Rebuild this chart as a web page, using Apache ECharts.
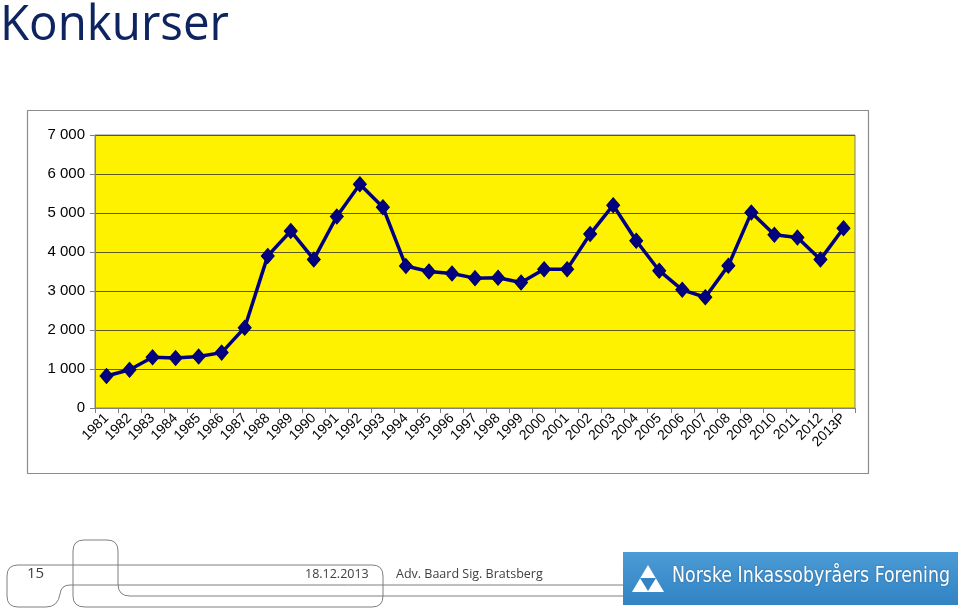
<!DOCTYPE html>
<html><head><meta charset="utf-8">
<script src="https://cdn.jsdelivr.net/npm/echarts@6/dist/echarts.min.js"></script>
<style>html,body{margin:0;padding:0;background:#fff;}#c{width:960px;height:608px;}</style>
</head><body><div id="c"></div>
<script>
const years = ['1981','1982','1983','1984','1985','1986','1987','1988','1989','1990','1991','1992','1993','1994','1995','1996','1997','1998','1999','2000','2001','2002','2003','2004','2005','2006','2007','2008','2009','2010','2011','2012','2013P'];
const konkurser = [820,980,1300,1280,1320,1420,2060,3900,4540,3810,4910,5740,5150,3640,3500,3450,3330,3340,3220,3560,3560,4460,5200,4290,3520,3030,2840,3650,5010,4440,4370,3810,4610];
const yTicks = {min:0, max:7000, interval:1000};
const titleText = 'Konkurser';
const pageNo = '15';
const dateText = '18.12.2013';
const authorText = 'Adv. Baard Sig. Bratsberg';
const logoText = 'Norske Inkassobyråers Forening';

const footerPathData = 'M 73,585 L 70,585 Q 61,585 60,594 Q 58,607 46,607 L 18,607 Q 7,607 7,596 L 7,576 Q 7,565 18,565 L 372,565 Q 383,565 383,576 L 383,596 Q 383,607 372,607 L 85,607 Q 73,607 73,596 L 73,551 Q 73,540 84,540 L 107,540 Q 118,540 118,551 L 118,584 Q 118,596 130,596 L 624,596';
echarts.graphic.registerShape('footerPath', echarts.graphic.extendPath(footerPathData, {}));

const chart = echarts.init(document.getElementById('c'), null, {renderer:'canvas'});
const fmt = v => String(v).replace(/\B(?=(\d{3})+(?!\d))/g, ' ');
chart.setOption({
  animation:false,
  backgroundColor:'#fff',
  grid:{left:95, top:135, width:760, height:273, show:true, backgroundColor:'#FFF200', borderColor:'#808080', borderWidth:1},
  xAxis:{type:'category', data:years, boundaryGap:true,
    axisLine:{lineStyle:{color:'#808080', width:1}},
    axisTick:{show:true, interval:0, length:5, lineStyle:{color:'#808080'}},
    axisLabel:{interval:0, rotate:45, margin:8, color:'#000', fontFamily:'Liberation Sans', fontSize:14}},
  yAxis:{type:'value', min:yTicks.min, max:yTicks.max, interval:yTicks.interval,
    axisLine:{show:true, lineStyle:{color:'#808080'}},
    axisTick:{show:true, length:5, lineStyle:{color:'#808080'}},
    splitLine:{lineStyle:{color:'#5e5a1c', width:1.2}},
    axisLabel:{formatter:fmt, color:'#000', fontFamily:'Liberation Sans', fontSize:15, margin:10}},
  series:[{type:'line', data:konkurser, symbol:'diamond', symbolSize:[13,15],
    lineStyle:{color:'#000080', width:3.5}, itemStyle:{color:'#000080', borderColor:'#000060', borderWidth:1}, z:5}],
  graphic:[
    {type:'rect', shape:{x:27.5, y:110.5, width:841, height:363}, style:{fill:null, stroke:'#8c8c8c', lineWidth:1.2}, z:-1, silent:true},
    {type:'text', left:0, top:1, style:{text:titleText, fontFamily:'Open Sans', fontSize:50, fill:'#0E2461'}, scaleX:0.95},
    {type:'footerPath', style:{fill:null, stroke:'#7f7f7f', lineWidth:1}},
    {type:'line', shape:{x1:73, y1:585, x2:624, y2:585}, style:{stroke:'#7f7f7f', lineWidth:1}},
    {type:'text', left:27, top:566, style:{text:pageNo, fontFamily:'Open Sans', fontSize:15, fill:'#404040'}},
    {type:'text', left:305, top:568, style:{text:dateText, fontFamily:'Open Sans', fontSize:12.5, fill:'#404040'}},
    {type:'text', left:396, top:568, style:{text:authorText, fontFamily:'Open Sans', fontSize:12.5, fill:'#404040'}},
    {type:'rect', shape:{x:623, y:552, width:335, height:53}, style:{fill:new echarts.graphic.LinearGradient(0,0,0,1,[{offset:0,color:'#4b9bd6'},{offset:1,color:'#3283c3'}])}},
    {type:'polygon', shape:{points:[[648,565],[632,592],[664,592]]}, style:{fill:'#fff'}},
    {type:'polygon', shape:{points:[[640,578],[656,578],[648,591]]}, style:{fill:'#3283c3'}},
    {type:'text', left:672, top:565, style:{text:logoText, fontFamily:'DejaVu Sans Condensed', fontSize:22, fill:'#fff', textShadowColor:'rgba(0,0,0,0.3)', textShadowBlur:2}, scaleX:0.88}
  ]
});
</script></body></html>
